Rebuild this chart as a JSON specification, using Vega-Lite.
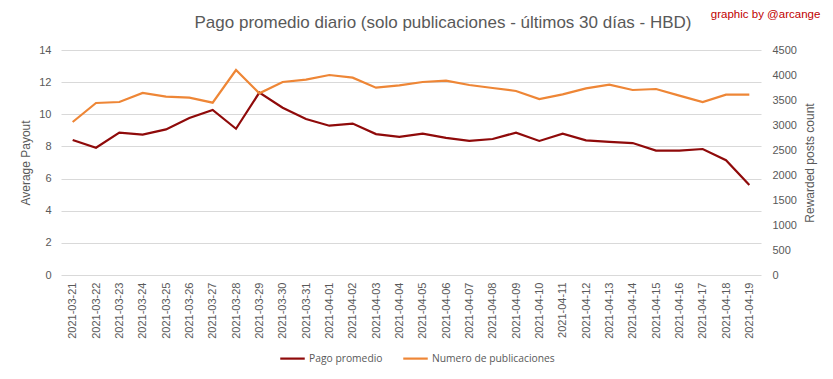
{
  "$schema": "https://vega.github.io/schema/vega-lite/v6.json",
  "width": 700,
  "height": 225,
  "autosize": {"type": "none"},
  "padding": {"left": 61, "top": 50, "right": 72, "bottom": 104},
  "background": "white",
  "title": {
    "text": "Pago promedio diario (solo publicaciones - últimos 30 días - HBD)",
    "font": "Liberation Sans",
    "fontSize": 17,
    "fontWeight": "normal",
    "color": "#595959",
    "anchor": "middle",
    "dx": 32,
    "offset": -23
  },
  "data": {
    "values": [
      {"date": "2021-03-21", "pago": 8.4, "num": 3060},
      {"date": "2021-03-22", "pago": 7.92, "num": 3440},
      {"date": "2021-03-23", "pago": 8.86, "num": 3460},
      {"date": "2021-03-24", "pago": 8.73, "num": 3640},
      {"date": "2021-03-25", "pago": 9.06, "num": 3567},
      {"date": "2021-03-26", "pago": 9.77, "num": 3547},
      {"date": "2021-03-27", "pago": 10.27, "num": 3447},
      {"date": "2021-03-28", "pago": 9.1, "num": 4100},
      {"date": "2021-03-29", "pago": 11.35, "num": 3633},
      {"date": "2021-03-30", "pago": 10.41, "num": 3860},
      {"date": "2021-03-31", "pago": 9.71, "num": 3907},
      {"date": "2021-04-01", "pago": 9.29, "num": 4000},
      {"date": "2021-04-02", "pago": 9.42, "num": 3947},
      {"date": "2021-04-03", "pago": 8.77, "num": 3747},
      {"date": "2021-04-04", "pago": 8.59, "num": 3793},
      {"date": "2021-04-05", "pago": 8.79, "num": 3860},
      {"date": "2021-04-06", "pago": 8.53, "num": 3887},
      {"date": "2021-04-07", "pago": 8.34, "num": 3800},
      {"date": "2021-04-08", "pago": 8.46, "num": 3740},
      {"date": "2021-04-09", "pago": 8.86, "num": 3680},
      {"date": "2021-04-10", "pago": 8.34, "num": 3520},
      {"date": "2021-04-11", "pago": 8.79, "num": 3613},
      {"date": "2021-04-12", "pago": 8.38, "num": 3733},
      {"date": "2021-04-13", "pago": 8.28, "num": 3807},
      {"date": "2021-04-14", "pago": 8.21, "num": 3700},
      {"date": "2021-04-15", "pago": 7.74, "num": 3720},
      {"date": "2021-04-16", "pago": 7.74, "num": 3587},
      {"date": "2021-04-17", "pago": 7.84, "num": 3460},
      {"date": "2021-04-18", "pago": 7.14, "num": 3607},
      {"date": "2021-04-19", "pago": 5.6, "num": 3607}
    ]
  },
  "encoding": {
    "x": {
      "field": "date",
      "type": "ordinal",
      "scale": {"type": "point", "padding": 0.5},
      "axis": {
        "title": null,
        "labelAngle": -90,
        "labelPadding": 7,
        "labelFontSize": 11,
        "grid": false
      }
    }
  },
  "layer": [
    {
      "mark": {"type": "line", "strokeWidth": 2.2},
      "encoding": {
        "y": {
          "field": "pago",
          "type": "quantitative",
          "scale": {"domain": [0, 14]},
          "axis": {
            "title": "Average Payout",
            "values": [0, 2, 4, 6, 8, 10, 12, 14],
            "grid": true,
            "labelPadding": 10,
            "titlePadding": 6
          }
        },
        "color": {
          "datum": "Pago promedio",
          "type": "nominal",
          "scale": {
            "domain": ["Pago promedio", "Numero de publicaciones"],
            "range": ["#8f0a0a", "#ee8636"]
          },
          "legend": {
            "title": null,
            "orient": "none",
            "direction": "horizontal",
            "legendX": 218,
            "legendY": 295,
            "symbolType": "stroke",
            "symbolSize": 600,
            "symbolStrokeWidth": 2.2,
            "labelFontSize": 10.3,
            "labelColor": "#595959",
            "labelFont": "Open Sans",
            "columnPadding": 15,
            "labelOffset": 3
          }
        }
      }
    },
    {
      "mark": {"type": "line", "strokeWidth": 2.2},
      "encoding": {
        "y": {
          "field": "num",
          "type": "quantitative",
          "scale": {"domain": [0, 4500]},
          "axis": {
            "orient": "right",
            "title": "Rewarded posts count",
            "titleAngle": 270,
            "titleBaseline": "top",
            "format": "d",
            "values": [0, 500, 1000, 1500, 2000, 2500, 3000, 3500, 4000, 4500],
            "grid": false,
            "labelPadding": 11,
            "titlePadding": 8
          }
        },
        "color": {"datum": "Numero de publicaciones", "type": "nominal"}
      }
    },
    {
      "data": {"values": [{}]},
      "mark": {
        "type": "text",
        "text": "graphic by @arcange",
        "color": "#c00000",
        "font": "Liberation Sans",
        "fontSize": 11.5,
        "align": "right",
        "baseline": "middle",
        "dx": 71
      },
      "encoding": {
        "x": {"datum": "2021-04-19", "type": "ordinal"},
        "y": {
          "datum": 16.18,
          "type": "quantitative",
          "scale": {"domain": [0, 14]},
          "axis": null
        }
      }
    }
  ],
  "resolve": {"scale": {"y": "independent"}},
  "config": {
    "view": {"stroke": null},
    "axis": {
      "domain": false,
      "ticks": false,
      "labelColor": "#595959",
      "labelFont": "Liberation Sans",
      "labelFontSize": 11,
      "titleColor": "#595959",
      "titleFont": "Liberation Sans",
      "titleFontSize": 12,
      "titleFontWeight": "normal",
      "gridColor": "#d9d9d9",
      "gridWidth": 1
    }
  }
}
